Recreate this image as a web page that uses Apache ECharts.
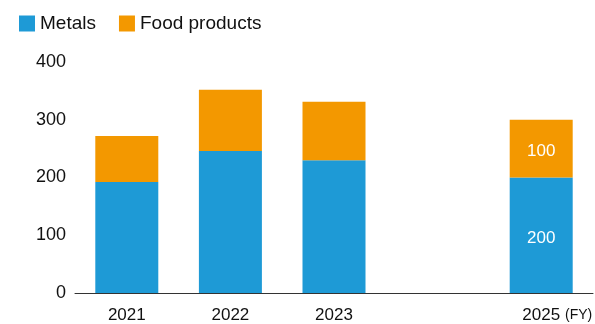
<!DOCTYPE html>
<html>
<head>
<meta charset="utf-8">
<script src="https://cdn.jsdelivr.net/npm/echarts@6/dist/echarts.min.js"></script>
<style>
  html, body { margin: 0; padding: 0; background: #fff; }
  #chart { width: 595px; height: 324px; }
</style>
</head>
<body>
<div id="chart"></div>
<script>
// fiscal years (2024 slot left empty)
const years = ['2021', '2022', '2023', '2024', '2025'];
const metals = [192, 246, 230, '-', 200];
const foodProducts = [80, 106, 101, '-', 100];
const yTicks = [0, 100, 200, 300, 400];

const BLUE = '#1e9ad6';
const ORANGE = '#f39800';
const FONT = '"Liberation Sans", Arial, sans-serif';

const chart = echarts.init(document.getElementById('chart'), null, { renderer: 'canvas' });

// only the forecast bar carries value labels
const fyLabel = {
    show: true, color: '#fff', fontSize: 17, offset: [0, 3],
    formatter: p => (p.dataIndex === 4 ? p.value : '')
};

chart.setOption({
    animation: false,
    textStyle: { fontFamily: FONT },
    legend: {
        left: 19, top: 14, padding: 0,
        icon: 'rect', itemWidth: 16, itemHeight: 16, itemGap: 23,
        textStyle: { fontSize: 19, color: '#111', fontFamily: FONT },
        data: ['Metals', 'Food products']
    },
    grid: { left: 75, right: 2, top: 62, bottom: 31, containLabel: false },
    xAxis: {
        type: 'category',
        data: years,
        axisLine: { lineStyle: { color: '#333', width: 1 } },
        axisTick: { show: false },
        axisLabel: {
            color: '#111', fontSize: 17, margin: 14,
            formatter: v => (v === '2024' ? '' : v)
        }
    },
    yAxis: {
        type: 'value',
        min: yTicks[0], max: yTicks[yTicks.length - 1], interval: 100,
        axisLine: { show: false },
        axisTick: { show: false },
        splitLine: { show: false },
        axisLabel: { color: '#111', fontSize: 18, margin: 9 }
    },
    series: [
        {
            name: 'Metals', type: 'bar', stack: 'total', barWidth: 63,
            data: metals,
            itemStyle: { color: BLUE },
            label: fyLabel
        },
        {
            name: 'Food products', type: 'bar', stack: 'total', barWidth: 63,
            data: foodProducts,
            itemStyle: { color: ORANGE },
            label: fyLabel
        }
    ],
    graphic: [
        {
            type: 'text', left: 565, top: 308,
            style: { text: '(FY)', fontSize: 14, fill: '#111', fontFamily: FONT }
        }
    ]
});
</script>
</body>
</html>
